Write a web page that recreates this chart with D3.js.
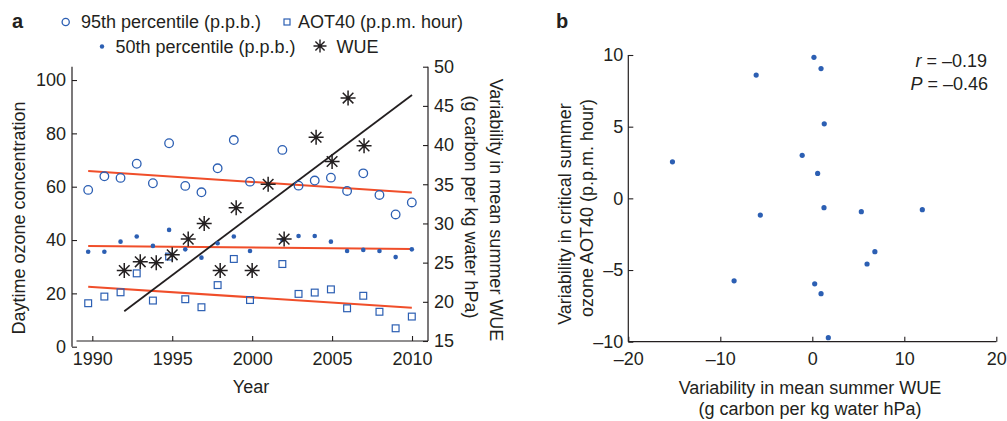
<!DOCTYPE html>
<html>
<head>
<meta charset="utf-8">
<script src="https://cdn.jsdelivr.net/npm/d3@7"></script>
<style>
  body { margin: 0; background: #fff; }
  svg text { font-family: "Liberation Sans", Arial, Helvetica, sans-serif; fill: #231f20; }
</style>
</head>
<body>
<svg width="1007" height="421"></svg>
<script>
// ---- panel a data ----
var years = [1990, 1991, 1992, 1993, 1994, 1995, 1996, 1997, 1998, 1999, 2000,
             2002, 2003, 2004, 2005, 2006, 2007, 2008, 2009, 2010];
var p95 = [58.8, 63.9, 63.3, 68.6, 61.3, 76.3, 60.3, 57.9, 66.9, 77.5, 61.9,
           73.8, 60.4, 62.3, 63.4, 58.4, 65.0, 56.9, 49.6, 54.1];
var p50 = [35.6, 35.6, 39.4, 41.3, 37.8, 43.8, 36.5, 33.4, 38.8, 41.3, 35.9,
           40.0, 41.5, 41.5, 39.4, 35.9, 36.3, 35.9, 33.6, 36.5];
var aot40 = [16.3, 18.8, 20.4, 27.5, 17.3, 33.8, 17.8, 14.8, 23.1, 32.9, 17.5,
             31.0, 19.8, 20.3, 21.5, 14.4, 19.1, 13.1, 6.9, 11.3];
var wueYears = [1992, 1993, 1994, 1995, 1996, 1997, 1998, 1999, 2000, 2001, 2002,
                2004, 2005, 2006, 2007];
var wue = [24.0, 25.1, 25.0, 26.0, 28.0, 30.0, 24.0, 32.0, 24.0, 35.0, 28.0,
           41.0, 37.9, 46.0, 39.9];
// fitted trend lines (end points)
var trendYears = [1990, 2010];
var p95Trend = [65.9, 57.8];
var p50Trend = [37.8, 36.6];
var aotTrend = [22.5, 14.6];
var wueTrendYears = [1992, 2010];
var wueTrend = [18.8, 46.4];
var yearTicks = [1990, 1995, 2000, 2005, 2010];
var ozoneTicks = [0, 20, 40, 60, 80, 100];
var wueTicks = [15, 20, 25, 30, 35, 40, 45, 50];

// ---- panel b data ----
var wueVar = [0.18, 0.95, -6.1, 1.3, -15.2, -1.1, 0.58, 1.27, -5.65, 5.33, 11.96,
              6.8, 5.95, -8.5, 0.26, 0.95, 1.74];
var aotVar = [9.84, 9.05, 8.6, 5.2, 2.55, 3.0, 1.74, -0.65, -1.17, -0.93, -0.79,
              -3.72, -4.58, -5.75, -5.96, -6.65, -9.72];
var bxTicks = [-20, -10, 0, 10, 20];
var byTicks = [-10, -5, 0, 5, 10];

var blue = "#2c5fb3", red = "#f04e2a", ink = "#231f20";
var fs = 18;
var fmt = function(d) { return d < 0 ? "\u2013" + Math.abs(d) : d; };

var svg = d3.select("svg");

function star(r) {
  var s = r * Math.SQRT1_2;
  return "M" + (-r) + ",0L" + r + ",0M0," + (-r) + "L0," + r +
         "M" + (-s) + "," + (-s) + "L" + s + "," + s +
         "M" + (-s) + "," + s + "L" + s + "," + (-s);
}

function styleAxis(g) {
  g.select(".domain").remove();
  g.selectAll(".tick line").attr("stroke", ink).attr("stroke-width", 1.1);
  g.selectAll(".tick text").attr("fill", ink).style("font-size", fs + "px");
}

// ================= panel a =================
var xYear = d3.scaleLinear().domain([1988.73, 2011]).range([72, 428]);
var xOz = d3.scaleLinear().domain([1989, 2011]).range([72, 428]);
var yOz = d3.scaleLinear().domain([0, 105]).range([346.7, 66.7]);
var yW = d3.scaleLinear().domain([15, 50]).range([341, 66.7]);

var a = svg.append("g");

// axis lines
a.append("line").attr("x1", 72).attr("x2", 72).attr("y1", yOz(105)).attr("y2", yOz(0))
  .attr("stroke", ink).attr("stroke-width", 1.2);
a.append("line").attr("x1", 76.5).attr("x2", 428).attr("y1", yW(15)).attr("y2", yW(15))
  .attr("stroke", ink).attr("stroke-width", 1.2);
a.append("line").attr("x1", 428).attr("x2", 428).attr("y1", yW(50)).attr("y2", yW(15))
  .attr("stroke", ink).attr("stroke-width", 1.2);

a.append("g").attr("transform", "translate(72,0)")
  .call(d3.axisLeft(yOz).tickValues(ozoneTicks).tickSize(-5).tickPadding(6))
  .call(styleAxis);
a.append("g").attr("transform", "translate(428,0)")
  .call(d3.axisRight(yW).tickValues(wueTicks).tickSize(-5).tickPadding(6))
  .call(styleAxis);
a.append("g").attr("transform", "translate(0," + yW(15) + ")")
  .call(d3.axisBottom(xYear).tickValues(yearTicks).tickFormat(d3.format("d")).tickSize(-5).tickPadding(11))
  .call(styleAxis);

// trend lines
var ozLine = function(vals) {
  return d3.line().x(function(d, i) { return xOz(trendYears[i]); }).y(function(d) { return yOz(d); })(vals);
};
[p95Trend, p50Trend, aotTrend].forEach(function(t) {
  a.append("path").attr("d", ozLine(t)).attr("fill", "none")
    .attr("stroke", red).attr("stroke-width", 2);
});
a.append("path")
  .attr("d", d3.line().x(function(d, i) { return xYear(wueTrendYears[i]); }).y(function(d) { return yW(d); })(wueTrend))
  .attr("fill", "none").attr("stroke", ink).attr("stroke-width", 1.8);

// markers
a.selectAll(".c95").data(p95).enter().append("circle")
  .attr("cx", function(d, i) { return xOz(years[i]); })
  .attr("cy", function(d) { return yOz(d); })
  .attr("r", 4.3).attr("fill", "none").attr("stroke", blue).attr("stroke-width", 1.3);
a.selectAll(".c50").data(p50).enter().append("circle")
  .attr("cx", function(d, i) { return xOz(years[i]); })
  .attr("cy", function(d) { return yOz(d); })
  .attr("r", 2.3).attr("fill", blue);
a.selectAll(".sq").data(aot40).enter().append("rect")
  .attr("x", function(d, i) { return xOz(years[i]) - 3.4; })
  .attr("y", function(d) { return yOz(d) - 3.4; })
  .attr("width", 6.8).attr("height", 6.8)
  .attr("fill", "none").attr("stroke", blue).attr("stroke-width", 1.2);
a.selectAll(".st").data(wue).enter().append("path")
  .attr("transform", function(d, i) { return "translate(" + xYear(wueYears[i]) + "," + yW(d) + ")"; })
  .attr("d", star(7.5)).attr("stroke", ink).attr("stroke-width", 1.5).attr("fill", "none");

// titles
a.append("text").attr("x", 251).attr("y", 393).attr("text-anchor", "middle")
  .style("font-size", fs + "px").text("Year");
a.append("text").attr("transform", "translate(25,218) rotate(-90)").attr("text-anchor", "middle")
  .style("font-size", fs + "px").text("Daytime ozone concentration");
a.append("text").attr("transform", "translate(490,210) rotate(90)").attr("text-anchor", "middle")
  .style("font-size", fs + "px").text("Variability in mean summer WUE");
a.append("text").attr("transform", "translate(465,207) rotate(90)").attr("text-anchor", "middle")
  .style("font-size", fs + "px").text("(g carbon per kg water hPa)");

// legend
var lg = a.append("g").style("font-size", fs + "px");
lg.append("circle").attr("cx", 65.7).attr("cy", 22).attr("r", 3.6)
  .attr("fill", "none").attr("stroke", blue).attr("stroke-width", 1.3);
lg.append("text").attr("x", 81).attr("y", 28).text("95th percentile (p.p.b.)");
lg.append("rect").attr("x", 284).attr("y", 19).attr("width", 6).attr("height", 6)
  .attr("fill", "none").attr("stroke", blue).attr("stroke-width", 1.2);
lg.append("text").attr("x", 298).attr("y", 28).text("AOT40 (p.p.m. hour)");
lg.append("circle").attr("cx", 102).attr("cy", 46.5).attr("r", 2.2).attr("fill", blue);
lg.append("text").attr("x", 115.5).attr("y", 52.5).text("50th percentile (p.p.b.)");
lg.append("path").attr("transform", "translate(320,46)").attr("d", star(6.5))
  .attr("stroke", ink).attr("stroke-width", 1.4);
lg.append("text").attr("x", 336.5).attr("y", 52.5).text("WUE");

svg.append("text").attr("x", 12).attr("y", 28).style("font-size", "20px")
  .style("font-weight", "bold").text("a");

// ================= panel b =================
var bx = d3.scaleLinear().domain([-20, 20]).range([628.3, 996.3]);
var by = d3.scaleLinear().domain([-10, 10]).range([341.7, 55]);
var b = svg.append("g");

b.append("line").attr("x1", bx(-20)).attr("x2", bx(-20)).attr("y1", by(10)).attr("y2", by(-10))
  .attr("stroke", ink).attr("stroke-width", 1.2);
b.append("line").attr("x1", bx(-20)).attr("x2", bx(20)).attr("y1", by(-10)).attr("y2", by(-10))
  .attr("stroke", ink).attr("stroke-width", 1.2);
b.append("g").attr("transform", "translate(" + bx(-20) + ",0)")
  .call(d3.axisLeft(by).tickValues(byTicks).tickFormat(fmt).tickSize(-5).tickPadding(5))
  .call(styleAxis);
b.append("g").attr("transform", "translate(0," + by(-10) + ")")
  .call(d3.axisBottom(bx).tickValues(bxTicks).tickFormat(fmt).tickSize(-5).tickPadding(11))
  .call(styleAxis);

b.selectAll(".pt").data(wueVar).enter().append("circle")
  .attr("cx", function(d) { return bx(d); })
  .attr("cy", function(d, i) { return by(aotVar[i]); })
  .attr("r", 2.6).attr("fill", blue);

b.append("text").attr("x", 810).attr("y", 394).attr("text-anchor", "middle")
  .style("font-size", fs + "px").text("Variability in mean summer WUE");
b.append("text").attr("x", 810).attr("y", 415).attr("text-anchor", "middle")
  .style("font-size", fs + "px").text("(g carbon per kg water hPa)");
b.append("text").attr("transform", "translate(571,214) rotate(-90)").attr("text-anchor", "middle")
  .style("font-size", fs + "px").text("Variability in critical summer");
b.append("text").attr("transform", "translate(593,208) rotate(-90)").attr("text-anchor", "middle")
  .style("font-size", fs + "px").text("ozone AOT40 (p.p.m. hour)");

var rt = b.append("text").attr("x", 987).attr("y", 66.5).attr("text-anchor", "end").style("font-size", fs + "px");
rt.append("tspan").style("font-style", "italic").text("r");
rt.append("tspan").text(" = \u20130.19");
var pt = b.append("text").attr("x", 988).attr("y", 90).attr("text-anchor", "end").style("font-size", fs + "px");
pt.append("tspan").style("font-style", "italic").text("P");
pt.append("tspan").text(" = \u20130.46");

svg.append("text").attr("x", 556).attr("y", 28).style("font-size", "20px")
  .style("font-weight", "bold").text("b");
</script>
</body>
</html>
